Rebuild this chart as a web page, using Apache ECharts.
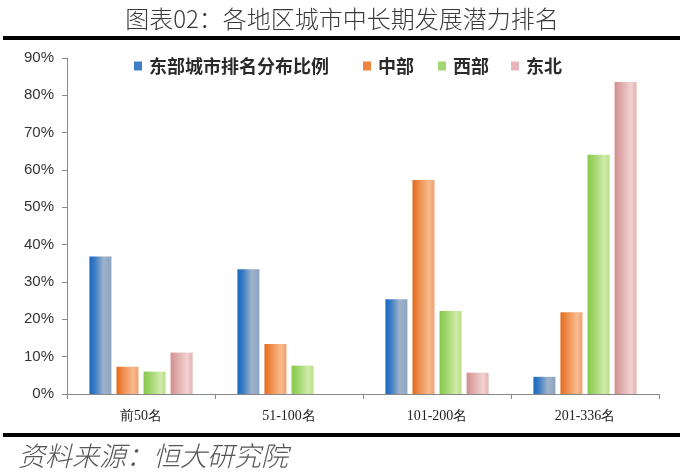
<!DOCTYPE html>
<html><head><meta charset="utf-8">
<script src="https://cdn.jsdelivr.net/npm/echarts@6/dist/echarts.min.js"></script>
<style>html,body{margin:0;padding:0;background:#fff}#c{width:684px;height:476px}</style>
</head><body><div id="c"></div>
<script>
const categories = ['前50名', '51-100名', '101-200名', '201-336名'];
const seriesNames = ['东部城市排名分布比例', '中部', '西部', '东北'];
const east = [36.8, 33.4, 25.4, 4.6];
const central = [7.3, 13.4, 57.3, 21.9];
const west = [6.0, 7.6, 22.2, 64.1];
const northeast = [11.1, 0, 5.7, 83.6];
const yTicks = [0, 10, 20, 30, 40, 50, 60, 70, 80, 90];

const G = echarts.graphic.LinearGradient;
const grads = [
  new G(0,0,1,0,[{offset:0,color:'#1a68bd'},{offset:0.25,color:'#3a7cc4'},{offset:0.65,color:'#9fb3c9'},{offset:1,color:'#8aa4c2'}]),
  new G(0,0,1,0,[{offset:0,color:'#e06a1c'},{offset:0.3,color:'#ee8c4c'},{offset:0.75,color:'#f8bb8e'},{offset:1,color:'#f0a070'}]),
  new G(0,0,1,0,[{offset:0,color:'#86c94a'},{offset:0.3,color:'#9fd46a'},{offset:0.75,color:'#cfeaa8'},{offset:1,color:'#b8e08a'}]),
  new G(0,0,1,0,[{offset:0,color:'#d28e8f'},{offset:0.3,color:'#e0abab'},{offset:0.75,color:'#f1d2d2'},{offset:1,color:'#e2b0b0'}])
];
const legendColors = ['#3f7fc6', '#ee8440', '#a6d673', '#e6b6b8'];
const dataArr = [east, central, west, northeast];

const legendLefts = [129, 358, 433, 506];
const chart = echarts.init(document.getElementById('c'));
chart.setOption({
  animation: false,
  title: {
    text: '图表02：各地区城市中长期发展潜力排名',
    left: 'center', top: 2,
    textStyle: {fontFamily: 'Noto Sans CJK SC', fontWeight: 300, fontSize: 24, color: '#3a3a3a'}
  },
  legend: seriesNames.map((n, i) => ({
    data: [{name: n, itemStyle: {color: legendColors[i]}}],
    left: legendLefts[i], top: 52,
    itemWidth: 8, itemHeight: 9, itemGap: 0,
    icon: 'rect',
    textStyle: {fontFamily: 'Noto Sans CJK SC', fontWeight: 'bold', fontSize: 18, color: '#2a2a2a', padding: [0,0,0,2]}
  })),
  grid: {left: 67, right: 25, top: 58, bottom: 82},
  xAxis: {
    type: 'category', data: categories,
    axisLine: {lineStyle: {color: '#888', width: 1}},
    axisTick: {show: true, length: 5, lineStyle: {color: '#888'}},
    axisLabel: {fontFamily: 'Liberation Serif', fontSize: 14, color: '#222', margin: 15}
  },
  yAxis: {
    type: 'value', min: 0, max: 90, interval: 10,
    axisLine: {show: true, lineStyle: {color: '#888'}},
    axisTick: {show: true, length: 5, lineStyle: {color: '#888'}},
    splitLine: {show: false},
    axisLabel: {fontFamily: 'Liberation Sans', fontSize: 15, color: '#333', margin: 13,
      formatter: v => yTicks.includes(v) ? v + '%' : ''}
  },
  series: seriesNames.map((n, i) => ({
    name: n, type: 'bar', data: dataArr[i],
    barWidth: 22, barGap: '23%',
    itemStyle: {color: grads[i]}
  })),
  graphic: [
    {type: 'rect', left: 3, top: 36, shape: {width: 677, height: 4}, style: {fill: '#000'}},
    {type: 'rect', left: 3, top: 433, shape: {width: 677, height: 4}, style: {fill: '#000'}},
    {type: 'text', left: 18, top: 442, style: {text: '资料来源：恒大研究院', font: 'italic 300 27px "Noto Sans CJK SC"', fill: '#555'}}
  ]
});
</script></body></html>
